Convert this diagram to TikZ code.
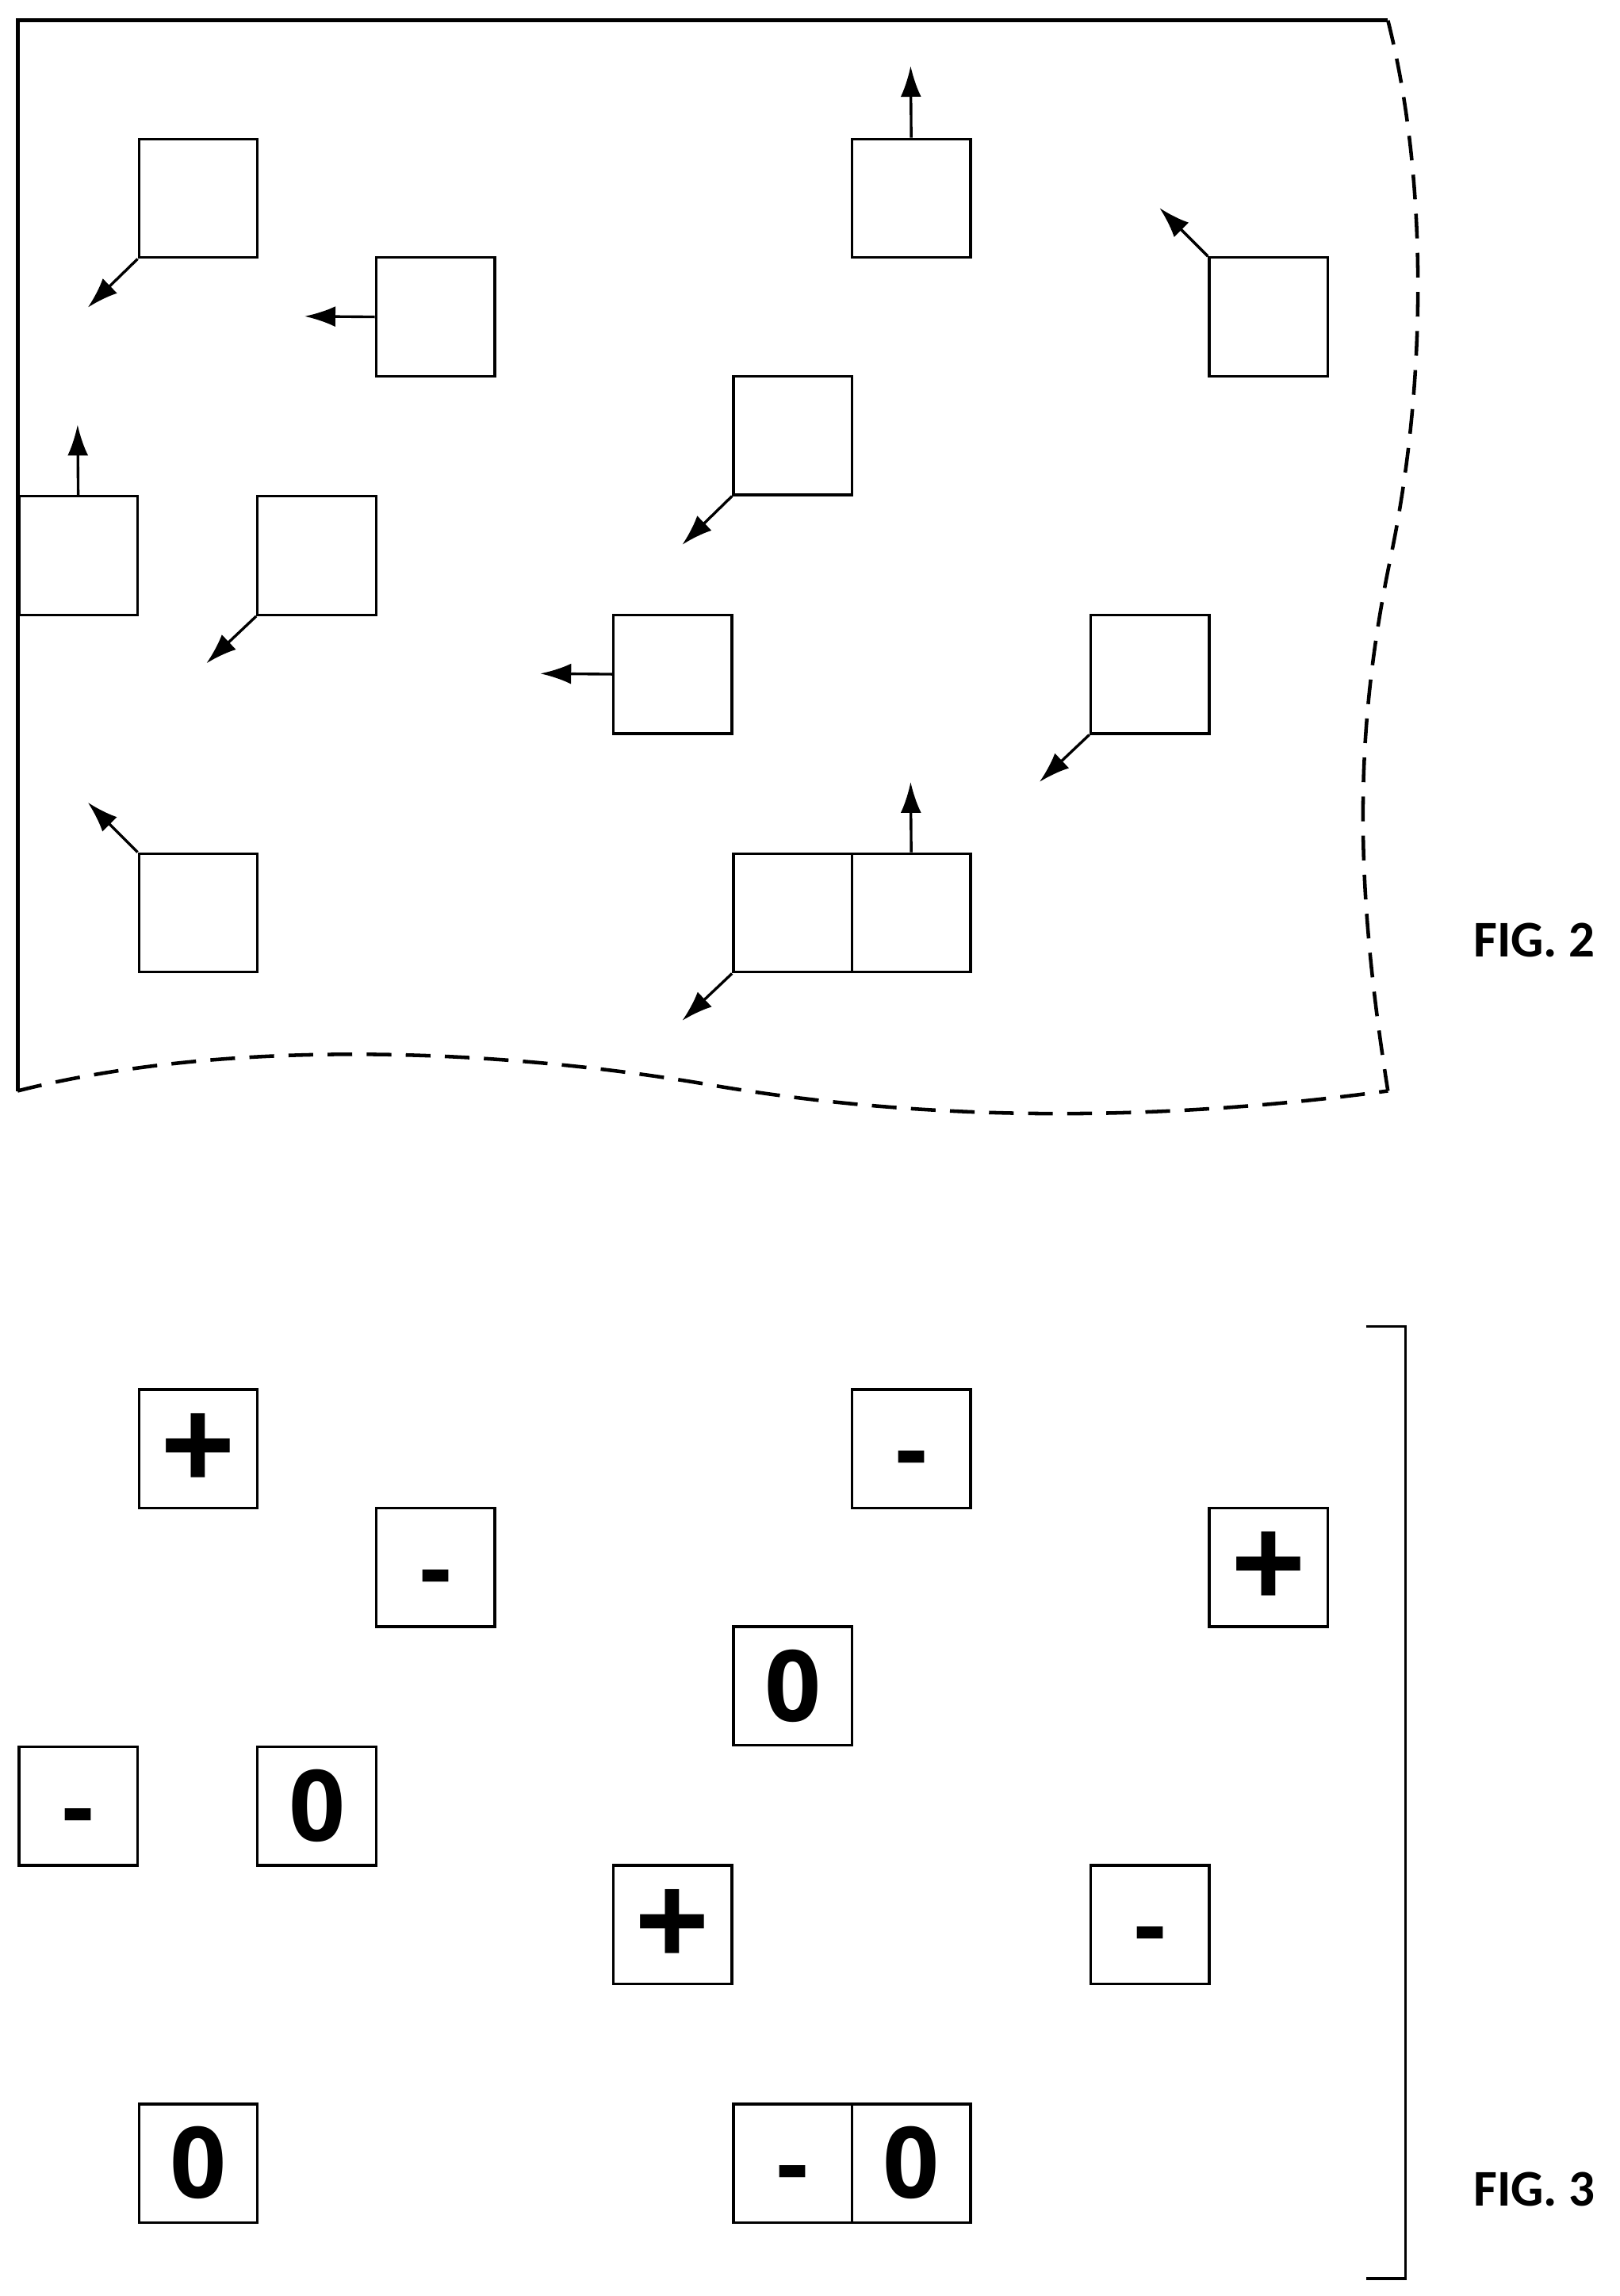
\documentclass[tikz,border=0pt]{standalone}
\usepackage{fontspec}
\setmainfont{Carlito}
\newfontfamily\lblfont{Open Sans}
\usetikzlibrary{arrows.meta}
\begin{document}
\begin{tikzpicture}[x=0.05cm,y=-0.05cm,
 box/.style={draw,line width=2.6pt,minimum size=81*0.05cm,inner sep=0,anchor=north west,text height=68pt,text depth=0pt,font=\lblfont\bfseries\fontsize{96}{96}\selectfont},
 pl/.style={font=\lblfont\bfseries\fontsize{128}{128}\selectfont,text height=84pt},
 arr/.style={line width=2.6pt,-{Latex[length=30pt,width=20pt]}},
 frame/.style={line width=4pt},
 dsh/.style={line width=3.5pt,dash pattern=on 24pt off 14pt},
 fig/.style={font=\bfseries\fontsize{50}{50}\selectfont}]
\useasboundingbox (0,0) rectangle (1106,1568);
% FIG 2
\draw[frame] (12,745) -- (12,14) -- (948,14);
\draw[dsh] (948,14) .. controls (975,120) and (975,260) .. (950,380) .. controls (925,500) and (925,600) .. (948,745);
\draw[dsh] (12,745) .. controls (150,710) and (330,715) .. (480,740) .. controls (640,768) and (800,765) .. (948,745);
\node[box] (a) at (94,94) {};
\node[box] (b) at (256,175) {};
\node[box] (c) at (581,94) {};
\node[box] (d) at (825,175) {};
\node[box] (e) at (500,256) {};
\node[box] (f) at (12,338) {};
\node[box] (g) at (175,338) {};
\node[box] (h) at (418,419) {};
\node[box] (i) at (744,419) {};
\node[box] (j) at (94,582) {};
\node[box] (k) at (500,582) {};
\node[box] (l) at (581,582) {};
\coordinate (ta) at (60,210); \coordinate (tb) at (208,216);
\coordinate (tc) at (622,45); \coordinate (td) at (792,142);
\coordinate (te) at (466,372); \coordinate (tf) at (53,290);
\coordinate (tg) at (141,453); \coordinate (th) at (369,460);
\coordinate (ti) at (710,534); \coordinate (tj) at (60,548);
\coordinate (tk) at (466,697); \coordinate (tl) at (622,534);
\draw[arr] (a.south west) -- (ta);
\draw[arr] (b.west) -- (tb);
\draw[arr] (c.north) -- (tc);
\draw[arr] (d.north west) -- (td);
\draw[arr] (e.south west) -- (te);
\draw[arr] (f.north) -- (tf);
\draw[arr] (g.south west) -- (tg);
\draw[arr] (h.west) -- (th);
\draw[arr] (i.south west) -- (ti);
\draw[arr] (j.north west) -- (tj);
\draw[arr] (k.south west) -- (tk);
\draw[arr] (l.north) -- (tl);
\node[fig,anchor=center] (f2) at (1048,642) {FIG. 2};
% FIG 3
\node[box,pl] (a3) at (94,948) {+};
\node[box] (b3) at (256,1029) {-};
\node[box] (c3) at (581,948) {-};
\node[box,pl] (d3) at (825,1029) {+};
\node[box] (e3) at (500,1110) {0};
\node[box] (f3) at (12,1192) {-};
\node[box] (g3) at (175,1192) {0};
\node[box,pl] (h3) at (418,1273) {+};
\node[box] (i3) at (744,1273) {-};
\node[box] (j3) at (94,1436) {0};
\node[box] (k3) at (500,1436) {-};
\node[box] (l3) at (581,1436) {0};
\draw[line width=2.6pt] (933,906) -- (960,906) -- (960,1556) -- (933,1556);
\node[fig,anchor=center] (f3l) at (1048,1495) {FIG. 3};
\end{tikzpicture}
\end{document}
